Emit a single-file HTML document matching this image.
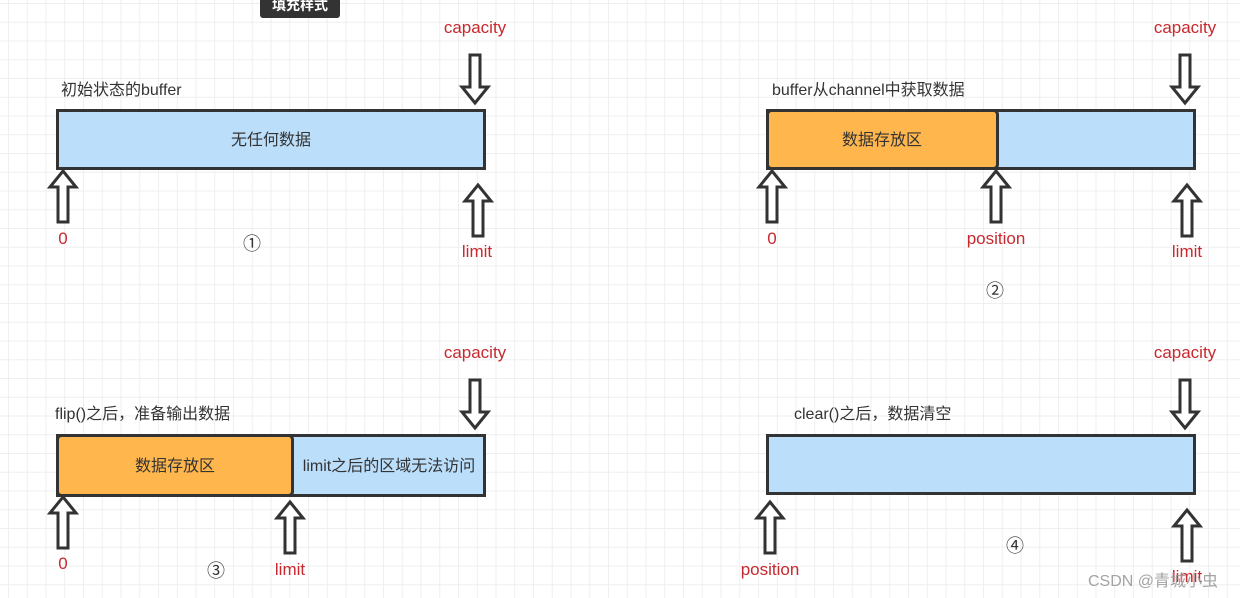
<!DOCTYPE html>
<html><head><meta charset="utf-8"><style>
html,body{margin:0;padding:0;background:#fff;}
body{width:1240px;height:598px;overflow:hidden;position:relative;
background-image:linear-gradient(#efefef 1px,transparent 1px),linear-gradient(90deg,#efefef 1px,transparent 1px);
background-size:18.75px 18.75px;background-position:8px 3px;}
svg{position:absolute;left:0;top:0;}
text{font-family:"Liberation Sans","Noto Sans CJK SC",sans-serif;}
</style></head><body>
<svg width="1240" height="598" viewBox="0 0 1240 598">
<defs>
<g id="up"><path d="M0 0 L13 16 L5 16 L5 51 L-5 51 L-5 16 L-13 16 Z" fill="#fff" stroke="#333" stroke-width="3" stroke-linejoin="miter"/></g>
<g id="down"><path d="M0 48 L13 32 L5 32 L5 0 L-5 0 L-5 32 L-13 32 Z" fill="#fff" stroke="#333" stroke-width="3"/></g>
</defs>
<rect x="260" y="-10" width="80" height="28" rx="3" fill="#333"/>
<text x="300" y="10" font-size="14" font-weight="bold" fill="#fff" text-anchor="middle">填充样式</text>

<g font-size="16" fill="#333">
<!-- panel 1 -->
<text x="61" y="95">初始状态的buffer</text>
<rect x="57.5" y="110.5" width="427" height="58" fill="#bbdefa" stroke="#333" stroke-width="3"/>
<text x="271" y="145" text-anchor="middle">无任何数据</text>
<text x="475" y="33" fill="#c8282e" font-size="17" text-anchor="middle">capacity</text>
<use href="#down" x="475" y="55"/>
<use href="#up" x="63" y="171"/>
<text x="63" y="244" fill="#c8282e" font-size="17" text-anchor="middle">0</text>
<use href="#up" x="478" y="185"/>
<text x="477" y="257" fill="#c8282e" font-size="17" text-anchor="middle">limit</text>
<text x="252" y="250" font-size="18" text-anchor="middle">①</text>

<!-- panel 2 -->
<text x="772" y="95">buffer从channel中获取数据</text>
<rect x="767.5" y="110.5" width="427" height="58" fill="#bbdefa" stroke="#333" stroke-width="3"/>
<rect x="767.5" y="110.5" width="230" height="58" rx="4" fill="#ffb64c" stroke="#333" stroke-width="3"/>
<text x="882" y="145" text-anchor="middle">数据存放区</text>
<text x="1185" y="33" fill="#c8282e" font-size="17" text-anchor="middle">capacity</text>
<use href="#down" x="1185" y="55"/>
<use href="#up" x="772" y="171"/>
<text x="772" y="244" fill="#c8282e" font-size="17" text-anchor="middle">0</text>
<use href="#up" x="996" y="171"/>
<text x="996" y="244" fill="#c8282e" font-size="17" text-anchor="middle">position</text>
<use href="#up" x="1187" y="185"/>
<text x="1187" y="257" fill="#c8282e" font-size="17" text-anchor="middle">limit</text>
<text x="995" y="297" font-size="18" text-anchor="middle">②</text>

<!-- panel 3 -->
<text x="55" y="419">flip()之后，准备输出数据</text>
<rect x="57.5" y="435.5" width="427" height="60" fill="#bbdefa" stroke="#333" stroke-width="3"/>
<rect x="57.5" y="435.5" width="235" height="60" rx="4" fill="#ffb64c" stroke="#333" stroke-width="3"/>
<text x="175" y="471" text-anchor="middle">数据存放区</text>
<text x="389" y="471" text-anchor="middle">limit之后的区域无法访问</text>
<text x="475" y="358" fill="#c8282e" font-size="17" text-anchor="middle">capacity</text>
<use href="#down" x="475" y="380"/>
<use href="#up" x="63" y="497"/>
<text x="63" y="569" fill="#c8282e" font-size="17" text-anchor="middle">0</text>
<use href="#up" x="290" y="502"/>
<text x="290" y="575" fill="#c8282e" font-size="17" text-anchor="middle">limit</text>
<text x="216" y="577" font-size="18" text-anchor="middle">③</text>

<!-- panel 4 -->
<text x="794" y="419">clear()之后，数据清空</text>
<rect x="767.5" y="435.5" width="427" height="58" fill="#bbdefa" stroke="#333" stroke-width="3"/>
<text x="1185" y="358" fill="#c8282e" font-size="17" text-anchor="middle">capacity</text>
<use href="#down" x="1185" y="380"/>
<use href="#up" x="770" y="502"/>
<text x="770" y="575" fill="#c8282e" font-size="17" text-anchor="middle">position</text>
<use href="#up" x="1187" y="510"/>
<text x="1187" y="582" fill="#c8282e" font-size="17" text-anchor="middle">limit</text>
<text x="1015" y="552" font-size="18" text-anchor="middle">④</text>
</g>
<text x="1088" y="586" font-size="16" fill="#999" fill-opacity="0.9">CSDN @青城小虫</text>
</svg>
</body></html>
